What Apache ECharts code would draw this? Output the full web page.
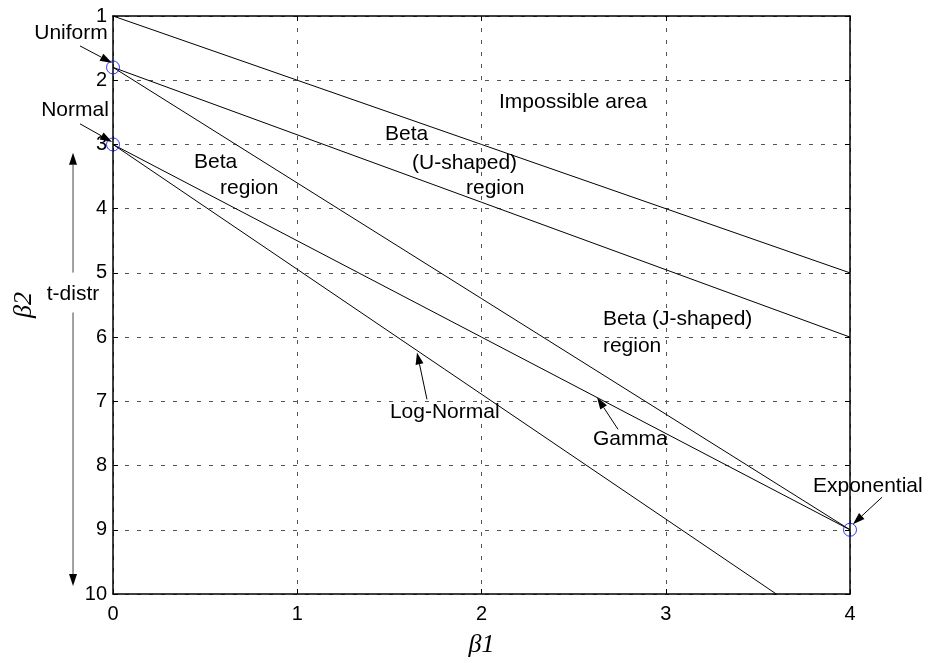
<!DOCTYPE html>
<html>
<head>
<meta charset="utf-8">
<script src="https://cdn.jsdelivr.net/npm/echarts@6.0.0/dist/echarts.min.js"></script>
<style>
  html, body { margin: 0; padding: 0; background: #fff; }
  #chart { width: 928px; height: 663px; }
</style>
</head>
<body>
<div id="chart"></div>
<script>
  // 轴刻度
  const xTicks = [0, 1, 2, 3, 4]
  const yTicks = [1, 2, 3, 4, 5, 6, 7, 8, 9, 10]

  // 边界线 [β1, β2]
  const impossibleLine = [[0, 1], [4, 5]]
  const uShapedLine = [[0, 1.8], [4, 6]]
  const jShapedLine = [[0, 1.8], [4, 9]]
  const gammaLine = [[0, 3], [4, 9]]
  const logNormalLine = [[0, 3], [3.6, 10]]

  // Uniform, Normal, Exponential
  const specialPoints = [[0, 1.8], [0, 3], [4, 9]]

  // 注释文字: 文本, [β1, β2], 对齐
  const labelTexts = ['Uniform', 'Normal', 't-distr', 'Beta', 'region', 'Beta', '(U-shaped)', 'region',
    'Impossible area', 'Beta (J-shaped)', 'region', 'Log-Normal', 'Gamma', 'Exponential']
  const labelPos = [[-0.228, 1.264], [-0.206, 2.461], [-0.217, 5.337], [0.44, 3.27], [0.581, 3.674],
    [1.476, 2.834], [1.623, 3.285], [1.916, 3.689], [2.095, 2.337], [2.659, 5.726], [2.659, 6.145],
    [1.503, 7.171], [2.605, 7.591], [3.799, 8.322]]
  const labelAlign = ['center', 'center', 'center', 'left', 'left', 'left', 'left', 'left',
    'left', 'left', 'left', 'left', 'left', 'left']

  // 箭头: [起点, 终点]
  const arrows = [
    [[-0.179, 1.466], [-0.005, 1.73]],
    [[-0.179, 2.679], [-0.005, 2.96]],
    [[1.704, 6.969], [1.65, 6.239]],
    [[2.741, 7.436], [2.627, 6.938]],
    [[4.174, 8.493], [4.016, 8.912]],
    [[-0.217, 4.995], [-0.217, 3.13]],
    [[-0.217, 5.617], [-0.217, 9.876]]
  ]

  const sans = "'Liberation Sans', Arial, Helvetica, sans-serif"
  const chart = echarts.init(document.getElementById('chart'))

  const baseX = {
    type: 'value',
    min: xTicks[0],
    max: xTicks[xTicks.length - 1],
    interval: 1,
    axisLine: { show: true, onZero: false, lineStyle: { color: '#000', width: 1.5 } },
    axisTick: { show: true, inside: true, length: 5, lineStyle: { color: '#000' } }
  }
  const baseY = {
    type: 'value',
    inverse: true,
    min: yTicks[0],
    max: yTicks[yTicks.length - 1],
    interval: 1,
    axisLine: { show: true, onZero: false, lineStyle: { color: '#000', width: 1.5 } },
    axisTick: { show: true, inside: true, length: 5, lineStyle: { color: '#000' } }
  }
  const gridLine = { show: true, lineStyle: { color: '#555', width: 1, type: [4, 8] } }

  const lines = [impossibleLine, uShapedLine, jShapedLine, gammaLine, logNormalLine]
  const series = lines.map((d) => ({
    type: 'line',
    data: d,
    showSymbol: false,
    silent: true,
    lineStyle: { color: '#000', width: 1 }
  }))
  series.push({
    type: 'scatter',
    data: specialPoints,
    symbol: 'circle',
    symbolSize: 13,
    clip: false,
    z: 5,
    itemStyle: { color: 'rgba(0,0,0,0)', borderColor: '#0000ff', borderWidth: 1 }
  })

  chart.setOption({
    animation: false,
    grid: { left: 113, right: 78, top: 16, bottom: 68 },
    xAxis: [
      Object.assign({}, baseX, {
        position: 'bottom',
        name: 'β1',
        nameLocation: 'middle',
        nameGap: 38,
        nameTextStyle: { fontFamily: "'Liberation Serif', 'Times New Roman', serif", fontStyle: 'italic', fontSize: 26, color: '#000' },
        axisLabel: { color: '#000', fontSize: 20, fontFamily: sans, margin: 10 },
        splitLine: gridLine
      }),
      Object.assign({}, baseX, { position: 'top', axisLabel: { show: false }, splitLine: { show: false } })
    ],
    yAxis: [
      Object.assign({}, baseY, {
        position: 'left',
        name: 'β2',
        nameLocation: 'middle',
        nameGap: 76,
        nameRotate: 90,
        nameTextStyle: { fontFamily: "'Liberation Serif', 'Times New Roman', serif", fontStyle: 'italic', fontSize: 26, color: '#000' },
        axisLabel: { color: '#000', fontSize: 20, fontFamily: sans, margin: 6 },
        splitLine: gridLine
      }),
      Object.assign({}, baseY, { position: 'right', axisLabel: { show: false }, splitLine: { show: false } })
    ],
    series: series
  })

  // 注释与箭头
  const toPx = (p) => chart.convertToPixel({ seriesIndex: 0 }, p)
  const graphics = []
  labelTexts.forEach((t, i) => {
    const p = toPx(labelPos[i])
    graphics.push({
      type: 'text',
      x: p[0],
      y: p[1],
      z: 100,
      style: {
        text: t,
        fill: '#000',
        font: '21px ' + sans,
        textAlign: labelAlign[i],
        align: labelAlign[i],
        textVerticalAlign: 'middle',
        verticalAlign: 'middle'
      }
    })
  })
  arrows.forEach((a, i) => {
    const s = toPx(a[0])
    const e = toPx(a[1])
    const dx = e[0] - s[0]
    const dy = e[1] - s[1]
    const len = Math.sqrt(dx * dx + dy * dy)
    const ux = dx / len
    const uy = dy / len
    const hl = 12
    const hw = 4
    const bx = e[0] - ux * hl
    const by = e[1] - uy * hl
    const col = i >= 5 ? '#444' : '#000'
    graphics.push({
      type: 'line',
      z: 100,
      shape: { x1: s[0], y1: s[1], x2: bx, y2: by },
      style: { stroke: col, lineWidth: 1 }
    })
    graphics.push({
      type: 'polygon',
      z: 100,
      shape: { points: [[e[0], e[1]], [bx - uy * hw, by + ux * hw], [bx + uy * hw, by - ux * hw]] },
      style: { fill: '#000' }
    })
  })
  chart.setOption({ graphic: graphics })
</script>
</body>
</html>
